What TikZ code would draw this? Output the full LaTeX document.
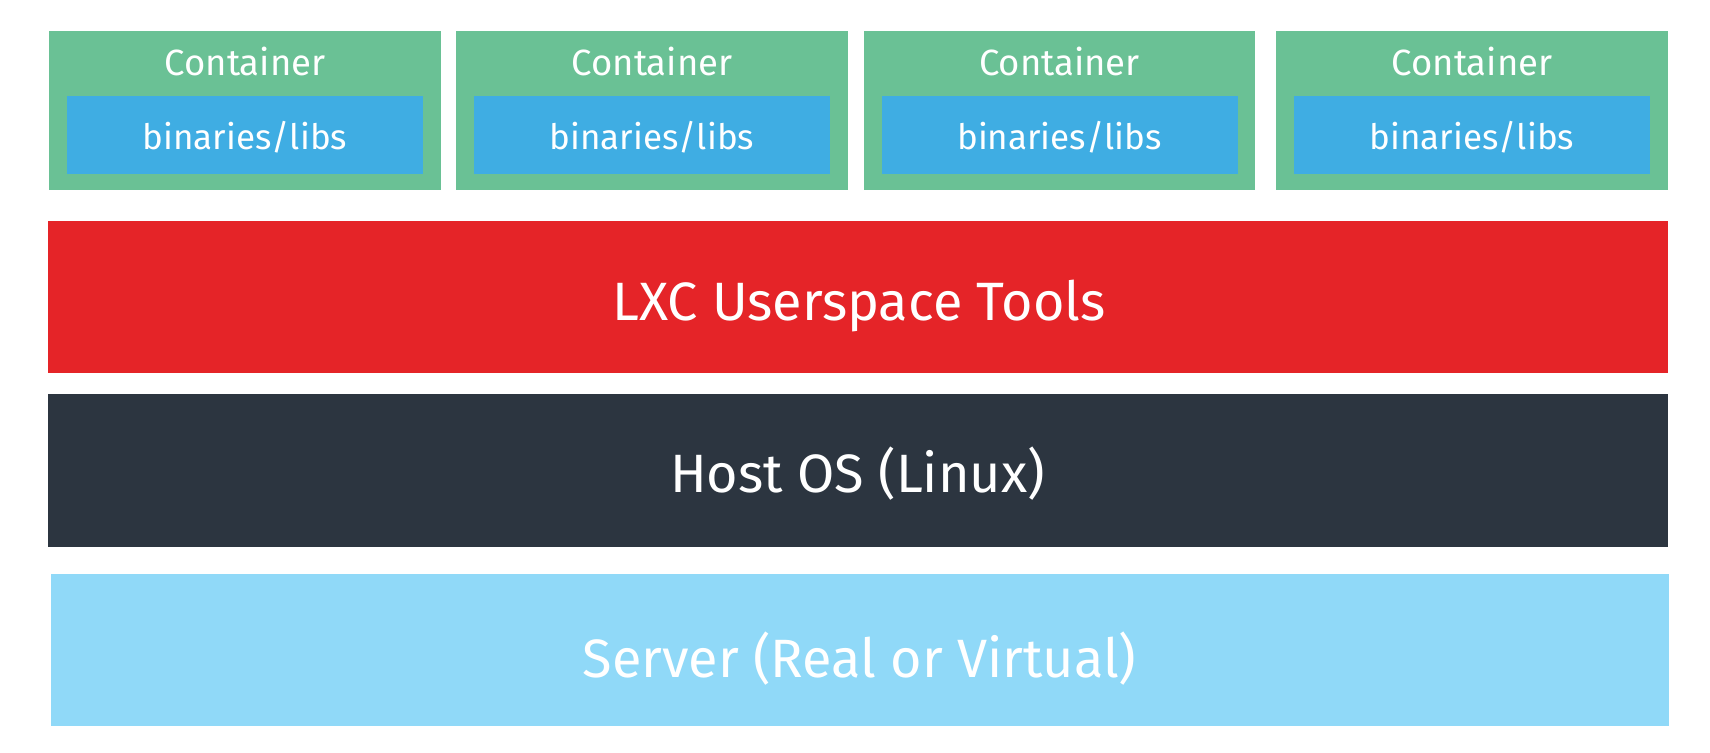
\documentclass[tikz,border=0pt]{standalone}
\usepackage{fontspec}
\setmainfont{Fira Sans}
\usepackage{xcolor}
\usepackage{tikz}
\usetikzlibrary{positioning, calc}

\definecolor{ctgreen}{HTML}{6AC195}
\definecolor{libblue}{HTML}{3FADE3}
\definecolor{lxcred}{HTML}{E52428}
\definecolor{hostdark}{HTML}{2C3540}
\definecolor{srvblue}{HTML}{90D9F8}

\begin{document}
\begin{tikzpicture}[x=1pt, y=-1pt,
    box/.style={rectangle, inner sep=0pt, outer sep=0pt},
    lbl/.style={anchor=base, text=white, inner sep=0pt}]

    % 0. Canvas
    \useasboundingbox (0, 0) rectangle (1710, 752);

    % 1. Containers (top row)
    \def\ctY{110.5}
    \def\libY{135}
    \def\ctW{392}

    % Container 1
    \node[box, fill=ctgreen, minimum width=\ctW, minimum height=159] (ct1) at (245, \ctY) {};
    \node[box, fill=libblue, minimum width=356, minimum height=78] (lib1) at (245, \libY) {};
    \node[lbl, font=\fontsize{36.5}{44}\selectfont] (ctl1) at (245, 75) {Container};
    \node[lbl, font=\fontsize{35}{42}\selectfont] (libl1) at (245, 149) {binaries/libs};

    % Container 2
    \node[box, fill=ctgreen, minimum width=\ctW, minimum height=159] (ct2) at (652, \ctY) {};
    \node[box, fill=libblue, minimum width=356, minimum height=78] (lib2) at (652, \libY) {};
    \node[lbl, font=\fontsize{36.5}{44}\selectfont] (ctl2) at (652, 75) {Container};
    \node[lbl, font=\fontsize{35}{42}\selectfont] (libl2) at (652, 149) {binaries/libs};

    % Container 3
    \node[box, fill=ctgreen, minimum width=391, minimum height=159] (ct3) at (1059.5, \ctY) {};
    \node[box, fill=libblue, minimum width=356, minimum height=78] (lib3) at (1059.5, \libY) {};
    \node[lbl, font=\fontsize{36.5}{44}\selectfont] (ctl3) at (1059.5, 75) {Container};
    \node[lbl, font=\fontsize{35}{42}\selectfont] (libl3) at (1059.5, 149) {binaries/libs};

    % Container 4
    \node[box, fill=ctgreen, minimum width=\ctW, minimum height=159] (ct4) at (1472, \ctY) {};
    \node[box, fill=libblue, minimum width=356, minimum height=78] (lib4) at (1472, \libY) {};
    \node[lbl, font=\fontsize{36.5}{44}\selectfont] (ctl4) at (1472, 75) {Container};
    \node[lbl, font=\fontsize{35}{42}\selectfont] (libl4) at (1472, 149) {binaries/libs};

    % 2. LXC userspace layer
    \node[box, fill=lxcred, minimum width=1620, minimum height=152] (lxc) at (858, 297) {};
    \node[lbl, font=\fontsize{54}{64}\selectfont] (lxcl) at (859, 320) {LXC Userspace Tools};

    % 3. Host OS layer
    \node[box, fill=hostdark, minimum width=1620, minimum height=153] (host) at (858, 470.5) {};
    \node[lbl, font=\fontsize{54}{64}\selectfont] (hostl) at (857.5, 492) {Host OS (Linux)};

    % 4. Server layer
    \node[box, fill=srvblue, minimum width=1618, minimum height=152] (srv) at (860, 650) {};
    \node[lbl, font=\fontsize{54}{64}\selectfont] (srvl) at (859.5, 677) {Server (Real or Virtual)};

\end{tikzpicture}
\end{document}
